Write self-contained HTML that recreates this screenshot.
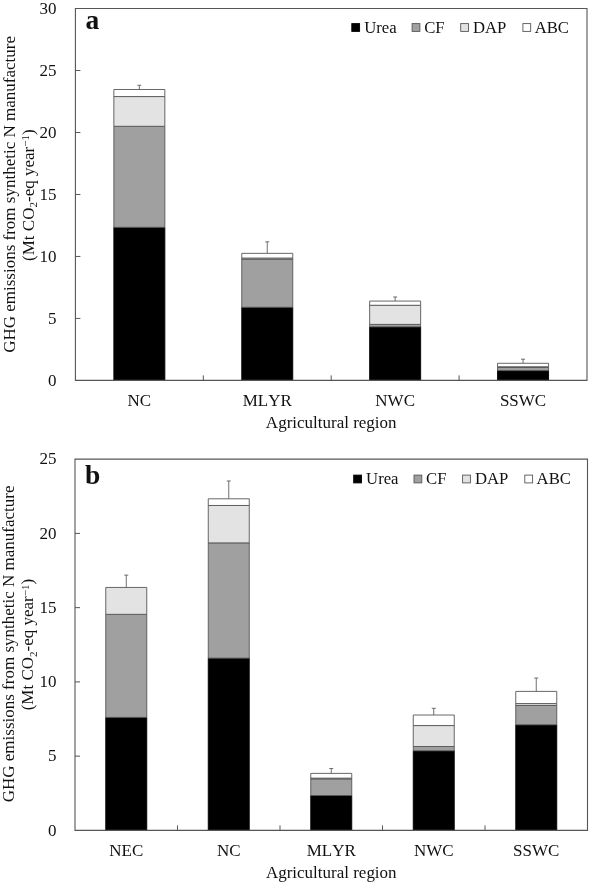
<!DOCTYPE html>
<html><head><meta charset="utf-8"><title>Figure</title>
<style>
html,body{margin:0;padding:0;background:#fff;}
svg{display:block;will-change:transform;}
text{font-family:"Liberation Serif",serif;font-size:17.0px;fill:#111;font-kerning:none;}
</style></head><body>
<svg width="590" height="884" viewBox="0 0 590 884">
<rect width="590" height="884" fill="#fff"/>
<path d="M139.35 89.49V85.28M137.35 85.28H141.35" stroke="#565656" stroke-width="0.85" fill="none"/>
<rect x="113.85" y="227.32" width="51.00" height="153.08" fill="#000000" stroke="#000" stroke-width="0.9" stroke-linejoin="round"/>
<rect x="113.85" y="126.30" width="51.00" height="101.02" fill="#a0a0a0" stroke="#565656" stroke-width="0.9" stroke-linejoin="round"/>
<rect x="113.85" y="96.55" width="51.00" height="29.75" fill="#e3e3e3" stroke="#565656" stroke-width="0.9" stroke-linejoin="round"/>
<rect x="113.85" y="89.49" width="51.00" height="7.07" fill="#ffffff" stroke="#565656" stroke-width="0.9" stroke-linejoin="round"/>
<text transform="translate(139.35 406.30) scale(1 1.02)" text-anchor="middle">NC</text>
<path d="M267.25 253.35V241.82M265.25 241.82H269.25" stroke="#565656" stroke-width="0.85" fill="none"/>
<rect x="241.75" y="307.27" width="51.00" height="73.13" fill="#000000" stroke="#000" stroke-width="0.9" stroke-linejoin="round"/>
<rect x="241.75" y="259.30" width="51.00" height="47.97" fill="#a0a0a0" stroke="#565656" stroke-width="0.9" stroke-linejoin="round"/>
<rect x="241.75" y="258.06" width="51.00" height="1.24" fill="#e3e3e3" stroke="#565656" stroke-width="0.9" stroke-linejoin="round"/>
<rect x="241.75" y="253.35" width="51.00" height="4.71" fill="#ffffff" stroke="#565656" stroke-width="0.9" stroke-linejoin="round"/>
<text transform="translate(267.25 406.30) scale(1 1.02)" text-anchor="middle">MLYR</text>
<path d="M395.15 301.07V296.98M393.15 296.98H397.15" stroke="#565656" stroke-width="0.85" fill="none"/>
<rect x="369.65" y="326.85" width="51.00" height="53.55" fill="#000000" stroke="#000" stroke-width="0.9" stroke-linejoin="round"/>
<rect x="369.65" y="324.37" width="51.00" height="2.48" fill="#a0a0a0" stroke="#565656" stroke-width="0.9" stroke-linejoin="round"/>
<rect x="369.65" y="305.29" width="51.00" height="19.09" fill="#e3e3e3" stroke="#565656" stroke-width="0.9" stroke-linejoin="round"/>
<rect x="369.65" y="301.07" width="51.00" height="4.21" fill="#ffffff" stroke="#565656" stroke-width="0.9" stroke-linejoin="round"/>
<text transform="translate(395.15 406.30) scale(1 1.02)" text-anchor="middle">NWC</text>
<path d="M523.05 363.29V359.20M521.05 359.20H525.05" stroke="#565656" stroke-width="0.85" fill="none"/>
<rect x="497.55" y="370.61" width="51.00" height="9.79" fill="#000000" stroke="#000" stroke-width="0.9" stroke-linejoin="round"/>
<rect x="497.55" y="367.51" width="51.00" height="3.10" fill="#a0a0a0" stroke="#565656" stroke-width="0.9" stroke-linejoin="round"/>
<rect x="497.55" y="366.77" width="51.00" height="0.74" fill="#e3e3e3" stroke="#565656" stroke-width="0.9" stroke-linejoin="round"/>
<rect x="497.55" y="363.29" width="51.00" height="3.47" fill="#ffffff" stroke="#565656" stroke-width="0.9" stroke-linejoin="round"/>
<text transform="translate(523.05 406.30) scale(1 1.02)" text-anchor="middle">SSWC</text>
<path d="M75.4 8.55H587.0V380.4H75.4Z" fill="none" stroke="#565656" stroke-width="1.1"/>
<text transform="translate(56.60 386.00) scale(1 1.03)" text-anchor="end">0</text>
<path d="M75.4 318.42h5" stroke="#565656" stroke-width="1"/>
<text transform="translate(56.60 324.02) scale(1 1.03)" text-anchor="end">5</text>
<path d="M75.4 256.45h5" stroke="#565656" stroke-width="1"/>
<text transform="translate(56.60 262.05) scale(1 1.03)" text-anchor="end">10</text>
<path d="M75.4 194.47h5" stroke="#565656" stroke-width="1"/>
<text transform="translate(56.60 200.07) scale(1 1.03)" text-anchor="end">15</text>
<path d="M75.4 132.50h5" stroke="#565656" stroke-width="1"/>
<text transform="translate(56.60 138.10) scale(1 1.03)" text-anchor="end">20</text>
<path d="M75.4 70.52h5" stroke="#565656" stroke-width="1"/>
<text transform="translate(56.60 76.12) scale(1 1.03)" text-anchor="end">25</text>
<text transform="translate(56.60 14.15) scale(1 1.03)" text-anchor="end">30</text>
<path d="M203.30 380.4v-5" stroke="#565656" stroke-width="1"/>
<path d="M331.20 380.4v-5" stroke="#565656" stroke-width="1"/>
<path d="M459.10 380.4v-5" stroke="#565656" stroke-width="1"/>
<text transform="translate(331.20 428.00) scale(1 1.02)" text-anchor="middle">Agricultural region</text>
<text transform="translate(14.50 194.47) rotate(-90)" text-anchor="middle">GHG emissions from synthetic N manufacture</text>
<text transform="translate(33.80 195.17) rotate(-90)" text-anchor="middle">(Mt CO<tspan style="font-size:11px" dy="3.5">2</tspan><tspan dy="-3.5">-eq year</tspan><tspan style="font-size:11px" dy="-4.7">−1</tspan><tspan dy="4.7">)</tspan></text>
<text x="85.4" y="28.85" style="font-weight:bold;font-size:27.5px">a</text>
<rect x="351.80" y="23.60" width="7.8" height="7.8" fill="#000000" stroke="#000" stroke-width="0.9"/>
<text transform="translate(364.20 32.60) scale(1 1.04)" text-anchor="start" style="font-size:16.7px">Urea</text>
<rect x="412.10" y="23.60" width="7.8" height="7.8" fill="#a0a0a0" stroke="#565656" stroke-width="0.9"/>
<text transform="translate(424.20 32.60) scale(1 1.04)" text-anchor="start" style="font-size:16.7px">CF</text>
<rect x="460.70" y="23.60" width="7.8" height="7.8" fill="#e3e3e3" stroke="#565656" stroke-width="0.9"/>
<text transform="translate(473.00 32.60) scale(1 1.04)" text-anchor="start" style="font-size:16.7px">DAP</text>
<rect x="522.90" y="23.60" width="7.8" height="7.8" fill="#ffffff" stroke="#565656" stroke-width="0.9"/>
<text transform="translate(534.70 32.60) scale(1 1.04)" text-anchor="start" style="font-size:16.7px">ABC</text>
<path d="M126.25 587.45V575.13M124.25 575.13H128.25" stroke="#565656" stroke-width="0.85" fill="none"/>
<rect x="105.75" y="717.39" width="41.00" height="113.01" fill="#000000" stroke="#000" stroke-width="0.9" stroke-linejoin="round"/>
<rect x="105.75" y="614.33" width="41.00" height="103.06" fill="#a0a0a0" stroke="#565656" stroke-width="0.9" stroke-linejoin="round"/>
<rect x="105.75" y="587.45" width="41.00" height="26.88" fill="#e3e3e3" stroke="#565656" stroke-width="0.9" stroke-linejoin="round"/>
<text transform="translate(126.25 856.30) scale(1 1.02)" text-anchor="middle">NEC</text>
<path d="M228.75 498.80V480.98M226.75 480.98H230.75" stroke="#565656" stroke-width="0.85" fill="none"/>
<rect x="208.25" y="658.14" width="41.00" height="172.26" fill="#000000" stroke="#000" stroke-width="0.9" stroke-linejoin="round"/>
<rect x="208.25" y="542.90" width="41.00" height="115.24" fill="#a0a0a0" stroke="#565656" stroke-width="0.9" stroke-linejoin="round"/>
<rect x="208.25" y="505.48" width="41.00" height="37.42" fill="#e3e3e3" stroke="#565656" stroke-width="0.9" stroke-linejoin="round"/>
<rect x="208.25" y="498.80" width="41.00" height="6.68" fill="#ffffff" stroke="#565656" stroke-width="0.9" stroke-linejoin="round"/>
<text transform="translate(228.75 856.30) scale(1 1.02)" text-anchor="middle">NC</text>
<path d="M331.25 773.38V768.48M329.25 768.48H333.25" stroke="#565656" stroke-width="0.85" fill="none"/>
<rect x="310.75" y="795.50" width="41.00" height="34.90" fill="#000000" stroke="#000" stroke-width="0.9" stroke-linejoin="round"/>
<rect x="310.75" y="778.87" width="41.00" height="16.63" fill="#a0a0a0" stroke="#565656" stroke-width="0.9" stroke-linejoin="round"/>
<rect x="310.75" y="778.13" width="41.00" height="0.74" fill="#e3e3e3" stroke="#565656" stroke-width="0.9" stroke-linejoin="round"/>
<rect x="310.75" y="773.38" width="41.00" height="4.75" fill="#ffffff" stroke="#565656" stroke-width="0.9" stroke-linejoin="round"/>
<text transform="translate(331.25 856.30) scale(1 1.02)" text-anchor="middle">MLYR</text>
<path d="M433.75 715.02V708.33M431.75 708.33H435.75" stroke="#565656" stroke-width="0.85" fill="none"/>
<rect x="413.25" y="750.80" width="41.00" height="79.60" fill="#000000" stroke="#000" stroke-width="0.9" stroke-linejoin="round"/>
<rect x="413.25" y="746.50" width="41.00" height="4.31" fill="#a0a0a0" stroke="#565656" stroke-width="0.9" stroke-linejoin="round"/>
<rect x="413.25" y="725.56" width="41.00" height="20.94" fill="#e3e3e3" stroke="#565656" stroke-width="0.9" stroke-linejoin="round"/>
<rect x="413.25" y="715.02" width="41.00" height="10.54" fill="#ffffff" stroke="#565656" stroke-width="0.9" stroke-linejoin="round"/>
<text transform="translate(433.75 856.30) scale(1 1.02)" text-anchor="middle">NWC</text>
<path d="M536.25 691.40V678.04M534.25 678.04H538.25" stroke="#565656" stroke-width="0.85" fill="none"/>
<rect x="515.75" y="724.82" width="41.00" height="105.58" fill="#000000" stroke="#000" stroke-width="0.9" stroke-linejoin="round"/>
<rect x="515.75" y="705.51" width="41.00" height="19.30" fill="#a0a0a0" stroke="#565656" stroke-width="0.9" stroke-linejoin="round"/>
<rect x="515.75" y="703.58" width="41.00" height="1.93" fill="#e3e3e3" stroke="#565656" stroke-width="0.9" stroke-linejoin="round"/>
<rect x="515.75" y="691.40" width="41.00" height="12.18" fill="#ffffff" stroke="#565656" stroke-width="0.9" stroke-linejoin="round"/>
<text transform="translate(536.25 856.30) scale(1 1.02)" text-anchor="middle">SSWC</text>
<path d="M75.0 459.15H587.5V830.4H75.0Z" fill="none" stroke="#565656" stroke-width="1.1"/>
<text transform="translate(56.60 835.50) scale(1 1.03)" text-anchor="end">0</text>
<path d="M75.0 756.15h5" stroke="#565656" stroke-width="1"/>
<text transform="translate(56.60 761.25) scale(1 1.03)" text-anchor="end">5</text>
<path d="M75.0 681.90h5" stroke="#565656" stroke-width="1"/>
<text transform="translate(56.60 687.00) scale(1 1.03)" text-anchor="end">10</text>
<path d="M75.0 607.65h5" stroke="#565656" stroke-width="1"/>
<text transform="translate(56.60 612.75) scale(1 1.03)" text-anchor="end">15</text>
<path d="M75.0 533.40h5" stroke="#565656" stroke-width="1"/>
<text transform="translate(56.60 538.50) scale(1 1.03)" text-anchor="end">20</text>
<text transform="translate(56.60 464.25) scale(1 1.03)" text-anchor="end">25</text>
<path d="M177.50 830.4v-5" stroke="#565656" stroke-width="1"/>
<path d="M280.00 830.4v-5" stroke="#565656" stroke-width="1"/>
<path d="M382.50 830.4v-5" stroke="#565656" stroke-width="1"/>
<path d="M485.00 830.4v-5" stroke="#565656" stroke-width="1"/>
<text transform="translate(331.25 878.00) scale(1 1.02)" text-anchor="middle">Agricultural region</text>
<text transform="translate(13.90 643.92) rotate(-90)" text-anchor="middle">GHG emissions from synthetic N manufacture</text>
<text transform="translate(33.20 644.62) rotate(-90)" text-anchor="middle">(Mt CO<tspan style="font-size:11px" dy="3.5">2</tspan><tspan dy="-3.5">-eq year</tspan><tspan style="font-size:11px" dy="-4.7">−1</tspan><tspan dy="4.7">)</tspan></text>
<text x="85.0" y="484.15" style="font-weight:bold;font-size:27.5px">b</text>
<rect x="353.70" y="475.10" width="7.8" height="7.8" fill="#000000" stroke="#000" stroke-width="0.9"/>
<text transform="translate(366.10 484.10) scale(1 1.04)" text-anchor="start" style="font-size:16.7px">Urea</text>
<rect x="414.00" y="475.10" width="7.8" height="7.8" fill="#a0a0a0" stroke="#565656" stroke-width="0.9"/>
<text transform="translate(426.10 484.10) scale(1 1.04)" text-anchor="start" style="font-size:16.7px">CF</text>
<rect x="462.60" y="475.10" width="7.8" height="7.8" fill="#e3e3e3" stroke="#565656" stroke-width="0.9"/>
<text transform="translate(474.90 484.10) scale(1 1.04)" text-anchor="start" style="font-size:16.7px">DAP</text>
<rect x="524.80" y="475.10" width="7.8" height="7.8" fill="#ffffff" stroke="#565656" stroke-width="0.9"/>
<text transform="translate(536.60 484.10) scale(1 1.04)" text-anchor="start" style="font-size:16.7px">ABC</text>
</svg>
</body></html>
